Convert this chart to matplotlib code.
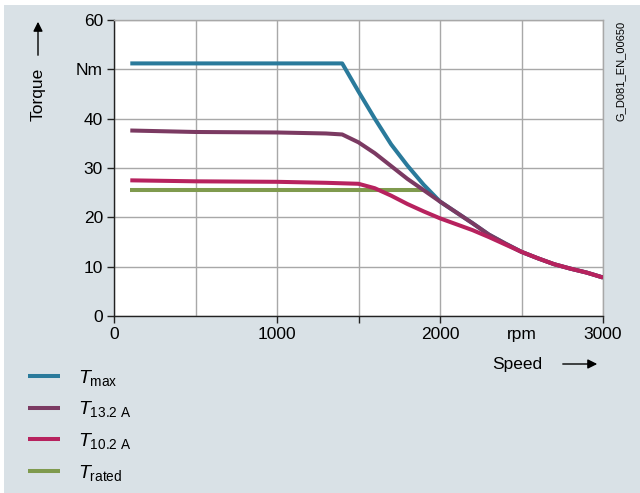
import matplotlib
matplotlib.use("Agg")
import matplotlib.pyplot as plt
from matplotlib.patches import Rectangle

plt.rcParams['font.family'] = ['Liberation Sans', 'DejaVu Sans']
plt.rcParams['mathtext.fontset'] = 'custom'
plt.rcParams['mathtext.rm'] = 'Liberation Sans'
plt.rcParams['mathtext.it'] = 'Liberation Sans:italic'
plt.rcParams['mathtext.bf'] = 'Liberation Sans:bold'

# ---- data ----
speed_max = [100, 1400, 1500, 1600, 1700, 1800, 1900, 2000, 2100, 2200, 2300, 2400, 2500, 2600, 2700, 2800, 2900, 3000]
torque_max = [51.2, 51.2, 45.5, 40.0, 34.8, 30.5, 26.6, 23.2, 21.0, 18.8, 16.5, 14.7, 13.0, 11.7, 10.5, 9.6, 8.8, 7.8]

speed_132 = [100, 500, 1000, 1300, 1400, 1500, 1600, 1700, 1800, 1900, 2000, 2100, 2200, 2300, 2400, 2500, 2600, 2700, 2800, 2900, 3000]
torque_132 = [37.6, 37.3, 37.2, 37.0, 36.8, 35.2, 33.0, 30.4, 27.8, 25.5, 23.2, 21.0, 18.8, 16.5, 14.7, 13.0, 11.7, 10.5, 9.6, 8.8, 7.8]

speed_102 = [100, 500, 1000, 1300, 1500, 1600, 1700, 1800, 1900, 2000, 2100, 2200, 2300, 2400, 2500, 2600, 2700, 2800, 2900, 3000]
torque_102 = [27.5, 27.3, 27.2, 27.0, 26.8, 25.9, 24.4, 22.7, 21.2, 19.8, 18.6, 17.4, 16.0, 14.5, 13.0, 11.7, 10.5, 9.6, 8.8, 7.8]

speed_rated = [100, 1900]
torque_rated = [25.5, 25.5]

x_ticks = [0, 500, 1000, 1500, 2000, 2500, 3000]
x_ticklabels = ['0', '', '1000', '', '2000', 'rpm', '3000']
y_ticks = [0, 10, 20, 30, 40, 50, 60]
y_ticklabels = ['0', '10', '20', '30', '40', 'Nm', '60']

labels = [r'$T_{\mathrm{max}}$', r'$T_{\mathrm{13.2\ A}}$', r'$T_{\mathrm{10.2\ A}}$', r'$T_{\mathrm{rated}}$']
colors = ['#2a7a9b', '#7b3a62', '#b7225e', '#7f9a4e']

BG = '#d9e1e6'
W, H = 640, 493

fig = plt.figure(figsize=(6.4, 4.93), dpi=100, facecolor='white')
fig.patches.append(Rectangle((4 / W, 0), 1 - 4 / W, 1 - 5 / H, transform=fig.transFigure,
                             facecolor=BG, edgecolor='none', zorder=-10))

ax = fig.add_axes([114 / W, 1 - 316 / H, (603 - 114) / W, (316 - 20) / H])
ax.set_facecolor('white')
ax.set_xlim(0, 3000)
ax.set_ylim(0, 60)

lw = 2.9
l1, = ax.plot(speed_max, torque_max, color=colors[0], lw=lw, solid_capstyle='butt', zorder=3)
l2, = ax.plot(speed_132, torque_132, color=colors[1], lw=lw, solid_capstyle='butt', zorder=4)
l3, = ax.plot(speed_102, torque_102, color=colors[2], lw=lw, solid_capstyle='butt', zorder=5)
l4, = ax.plot(speed_rated, torque_rated, color=colors[3], lw=lw, solid_capstyle='butt', zorder=3.5)

ax.set_xticks(x_ticks)
ax.set_xticklabels(x_ticklabels)
ax.set_yticks(y_ticks)
ax.set_yticklabels(y_ticklabels)
ax.grid(True, color='#a8a8a8', lw=1.0, zorder=0)
ax.tick_params(axis='both', labelsize=12.5, length=5, width=1, color='#222222', direction='out', pad=3)
for i in (1, 5):
    ax.xaxis.get_major_ticks()[i].tick1line.set_visible(False)
for s in ['top', 'right']:
    ax.spines[s].set_color('#a8a8a8')
    ax.spines[s].set_linewidth(1.0)
for s in ['left', 'bottom']:
    ax.spines[s].set_color('#222222')
    ax.spines[s].set_linewidth(1.0)

# axis labels with arrows
fig.text(38 / W, 1 - 94 / H, 'Torque', rotation=90, ha='center', va='center', fontsize=12.5)
fig.add_artist(matplotlib.patches.FancyArrowPatch((38 / W, 1 - 58 / H), (38 / W, 1 - 19 / H),
               transform=fig.transFigure, arrowstyle='-|>', mutation_scale=14, lw=1, color='black'))
fig.text(517 / W, 1 - 364 / H, 'Speed', ha='center', va='center', fontsize=12.5)
fig.add_artist(matplotlib.patches.FancyArrowPatch((560 / W, 1 - 364 / H), (600 / W, 1 - 364 / H),
               transform=fig.transFigure, arrowstyle='-|>', mutation_scale=14, lw=1, color='black'))

fig.text(621 / W, 1 - 71 / H, 'G_D081_EN_00650', rotation=90, ha='center', va='center', fontsize=8)

fig.legend([l1, l2, l3, l4], labels, loc='upper left', bbox_to_anchor=(20 / W, 1 - 360 / H),
           frameon=False, fontsize=14, handlelength=1.65, handletextpad=0.93, labelspacing=0.6,
           borderaxespad=0)

fig.savefig('out.png', dpi=100, facecolor=fig.get_facecolor())
